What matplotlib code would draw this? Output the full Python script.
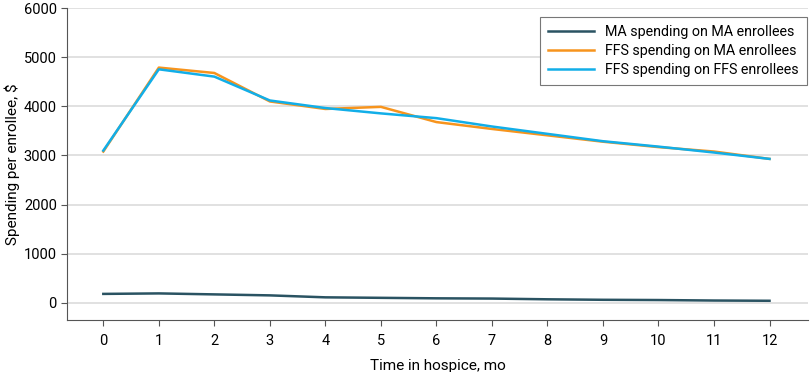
import matplotlib
matplotlib.use("Agg")
import matplotlib.pyplot as plt

months = list(range(13))
ma_on_ma = [180, 190, 170, 150, 110, 100, 90, 85, 70, 60, 55, 45, 40]
ffs_on_ma = [3080, 4790, 4680, 4100, 3947, 3990, 3680, 3540, 3410, 3280, 3170, 3080, 2930]
ffs_on_ffs = [3100, 4755, 4606, 4120, 3966, 3857, 3760, 3590, 3440, 3290, 3180, 3060, 2930]
labels = ["MA spending on MA enrollees", "FFS spending on MA enrollees", "FFS spending on FFS enrollees"]

plt.rcParams['font.family'] = ['Roboto', 'DejaVu Sans']

fig = plt.figure(figsize=(8.1, 3.72), dpi=100)
ax = fig.add_axes([0.083, 0.14, 0.915, 0.838])

ax.plot(months, ma_on_ma, color="#2a5362", lw=1.8, label=labels[0])
ax.plot(months, ffs_on_ma, color="#f7941d", lw=1.8, label=labels[1])
ax.plot(months, ffs_on_ffs, color="#12aee8", lw=1.8, label=labels[2])

ax.set_xlim(-0.65, 12.7)
ax.set_ylim(-350, 6000)
ax.set_xticks(months)
ax.set_yticks(range(0, 6001, 1000))
ax.yaxis.grid(True, color="#dcdcdc", lw=1.2)
ax.set_axisbelow(True)
for s in ["top", "right"]:
    ax.spines[s].set_visible(False)
for s in ["left", "bottom"]:
    ax.spines[s].set_color("#555555")
ax.tick_params(colors="#555555", labelcolor="black", labelsize=10.5, length=4)
ax.tick_params(axis="x", pad=6)
ax.set_xlabel("Time in hospice, mo", fontsize=11, labelpad=8)
ax.set_ylabel("Spending per enrollee, $", fontsize=11, labelpad=3)

leg = ax.legend(loc="upper right", bbox_to_anchor=(1.0, 0.975), fontsize=10.3,
                fancybox=False, framealpha=1, edgecolor="#777777", handlelength=3.2,
                borderpad=0.55, labelspacing=0.35, borderaxespad=0.1)
leg.get_frame().set_linewidth(0.8)

fig.savefig("out.png", dpi=100)
